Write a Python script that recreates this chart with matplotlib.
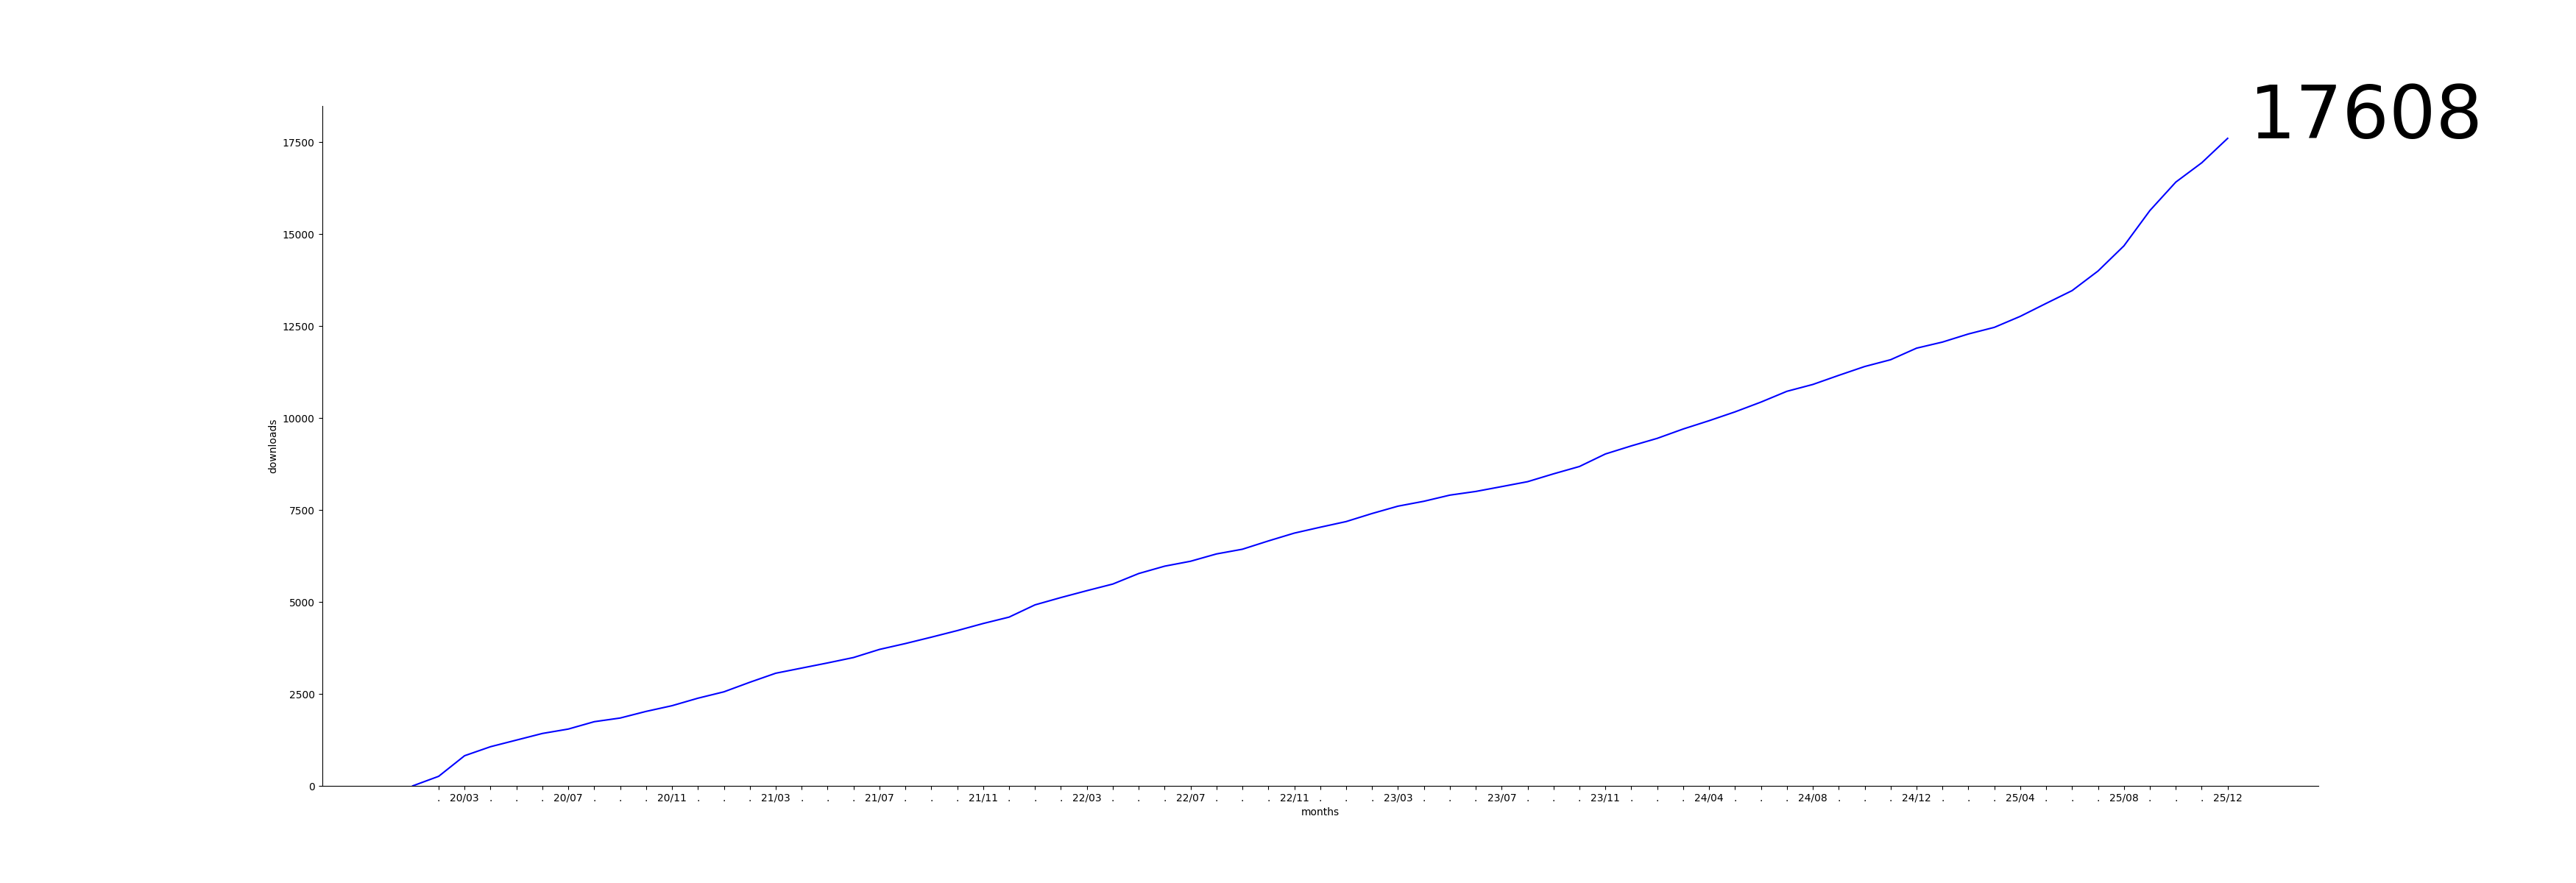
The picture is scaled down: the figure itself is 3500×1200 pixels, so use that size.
import matplotlib
matplotlib.use("Agg")
import matplotlib.pyplot as plt

# monthly cumulative downloads; 24/01 is missing in the source data
months = (
    [f"20/{m:02d}" for m in range(1, 13)]
    + [f"21/{m:02d}" for m in range(1, 13)]
    + [f"22/{m:02d}" for m in range(1, 13)]
    + [f"23/{m:02d}" for m in range(1, 13)]
    + ["24/02", "24/03"]
    + [f"24/{m:02d}" for m in range(4, 13)]
    + [f"25/{m:02d}" for m in range(1, 13)]
)

downloads = [
    0, 260, 820, 1065, 1245, 1425, 1545, 1745, 1845, 2025,
    2180, 2384, 2557, 2817, 3063, 3203, 3343, 3490, 3710, 3870,
    4043, 4222, 4415, 4589, 4922, 5121, 5308, 5488, 5774, 5974,
    6108, 6307, 6435, 6660, 6873, 7033, 7187, 7406, 7606, 7739,
    7906, 8006, 8138, 8272, 8485, 8685, 9025, 9245, 9450, 9704,
    9930, 10170, 10436, 10729, 10915, 11163, 11403, 11588, 11902, 12068,
    12288, 12468, 12767, 13120, 13467, 14000, 14685, 15644, 16418, 16943,
    17608,
]

x = list(range(len(downloads)))

fig, ax = plt.subplots(figsize=(35, 12), dpi=100)
ax.plot(x, downloads, color="blue", linewidth=1.5)

# every month gets a tick, only every 4th one a label
tick_pos = x[1:]
tick_labels = [months[i] if i % 4 == 2 else "." for i in tick_pos]
ax.set_xticks(tick_pos)
ax.set_xticklabels(tick_labels)

ax.set_ylim(bottom=0)
ax.set_xlabel("months")
ax.set_ylabel("downloads")
ax.spines["top"].set_visible(False)
ax.spines["right"].set_visible(False)

# total at the end of the line
ax.text(x[-1] + 0.8, downloads[-1], str(downloads[-1]), fontsize=72)

fig.savefig("out.png", dpi=100)
